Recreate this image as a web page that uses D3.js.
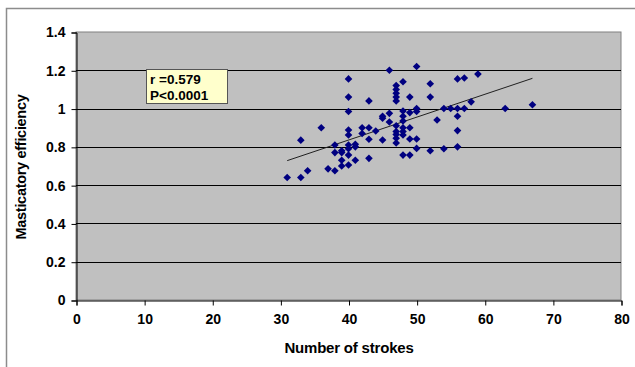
<!DOCTYPE html>
<html><head><meta charset="utf-8">
<script src="https://cdn.jsdelivr.net/npm/d3@7"></script>
<style>body{margin:0;background:#fff}svg{display:block}</style>
</head><body>
<svg id="c" width="635" height="367"></svg>
<script>
const strokes = [31,33,33,34,36,37,38,38,38,39,39,39,39,40,40,40,40,40,40,40,40,40,41,41,41,42,42,43,43,43,43,44,45,45,45,46,46,46,
  47,47,47,47,47,47,47,47,47,47,48,48,48,48,48,48,48,48,49,49,49,49,49,50,50,50,50,50,52,52,52,53,54,54,55,56,56,56,56,56,57,57,58,59,63,67];
const efficiency = [0.64,0.64,0.835,0.675,0.90,0.685,0.675,0.77,0.81,0.77,0.73,0.78,0.70,0.705,0.757,0.79,0.81,0.862,0.888,0.985,1.06,1.155,0.73,0.80,0.813,0.87,0.90,0.74,0.84,0.90,1.04,0.883,0.836,0.95,0.96,0.93,0.975,1.2,
  0.82,0.845,0.865,0.88,0.91,1.04,1.06,1.08,1.10,1.12,0.757,0.862,0.88,0.90,0.935,0.96,0.987,1.14,0.757,0.841,0.90,0.979,1.06,0.792,0.841,0.985,1.0,1.22,0.78,1.06,1.13,0.94,0.79,1.0,1.0,0.80,0.885,0.96,1.0,1.155,1.0,1.16,1.035,1.18,1.0,1.02];
const trendX = [31, 67];
const trendY = [0.728, 1.158];
const xTicks = [0,10,20,30,40,50,60,70,80];
const yTicks = [0,0.2,0.4,0.6,0.8,1,1.2,1.4];
const annotation = ["r =0.579", "P<0.0001"];

const svg = d3.select("#c");
const L = 76, R = 621, T = 32, B = 300;
const x = d3.scaleLinear().domain([0,80]).range([L,R]);
const y = d3.scaleLinear().domain([0,1.4]).range([B,T]);
const font = "'Liberation Sans', Arial, sans-serif";

// outer chart border
svg.append("rect").attr("x",6.5).attr("y",8.5).attr("width",640).attr("height",370)
  .attr("fill","#fff").attr("stroke","#8c8c8c").attr("stroke-width",1.5);

// plot area
svg.append("rect").attr("x",L).attr("y",T).attr("width",R-L).attr("height",B-T)
  .attr("fill","#c0c0c0").attr("stroke","#808080").attr("stroke-width",1);

// gridlines
svg.append("g").selectAll("line").data(yTicks.filter(v=>v>0 && v<1.4)).join("line")
  .attr("x1",L).attr("x2",R).attr("y1",d=>Math.round(y(d))+0.5).attr("y2",d=>Math.round(y(d))+0.5)
  .attr("stroke","#000").attr("stroke-width",1);

// axes
const yAxis = svg.append("g").attr("transform",`translate(${L+0.5},0.5)`)
  .call(d3.axisLeft(y).tickValues(yTicks).tickFormat(d=>d3.format("")(+d.toFixed(1))).tickSize(5).tickPadding(6));
const xAxis = svg.append("g").attr("transform",`translate(0.5,${B+0.5})`)
  .call(d3.axisBottom(x).tickValues(xTicks).tickSize(5).tickPadding(9));
[yAxis,xAxis].forEach(g=>{
  g.select(".domain").attr("stroke","#000");
  g.selectAll(".tick line").attr("stroke","#000");
  g.selectAll("text").attr("font-family",font).attr("font-weight","bold").attr("font-size",14).attr("fill","#000");
});

// trend line
svg.append("line").attr("x1",x(trendX[0])).attr("y1",y(trendY[0])).attr("x2",x(trendX[1])).attr("y2",y(trendY[1]))
  .attr("stroke","#202020").attr("stroke-width",1);

// points
const pts = strokes.map((s,i)=>[s,efficiency[i]]);
const r = 3.8;
svg.append("g").selectAll("path").data(pts).join("path")
  .attr("d",`M0,${-r}L${r},0L0,${r}L${-r},0Z`)
  .attr("transform",d=>`translate(${x(d[0])},${y(d[1])})`)
  .attr("fill","#000080");

// annotation box
svg.append("rect").attr("x",146.5).attr("y",69.5).attr("width",81).attr("height",34)
  .attr("fill","#ffffcc").attr("stroke","#555").attr("stroke-width",1);
svg.append("g").selectAll("text").data(annotation).join("text")
  .attr("x",150).attr("y",(d,i)=>84+i*16).text(d=>d)
  .attr("font-family",font).attr("font-weight","bold").attr("font-size",13.5).attr("fill","#000");

// axis titles
svg.append("text").attr("x",349).attr("y",353).attr("text-anchor","middle").text("Number of strokes")
  .attr("font-family",font).attr("font-weight","bold").attr("font-size",15).attr("letter-spacing",-0.2);
svg.append("text").attr("transform","translate(26,167) rotate(-90)").attr("text-anchor","middle").text("Masticatory efficiency")
  .attr("font-family",font).attr("font-weight","bold").attr("font-size",14.5).attr("letter-spacing",-0.3);
</script>
</body></html>
